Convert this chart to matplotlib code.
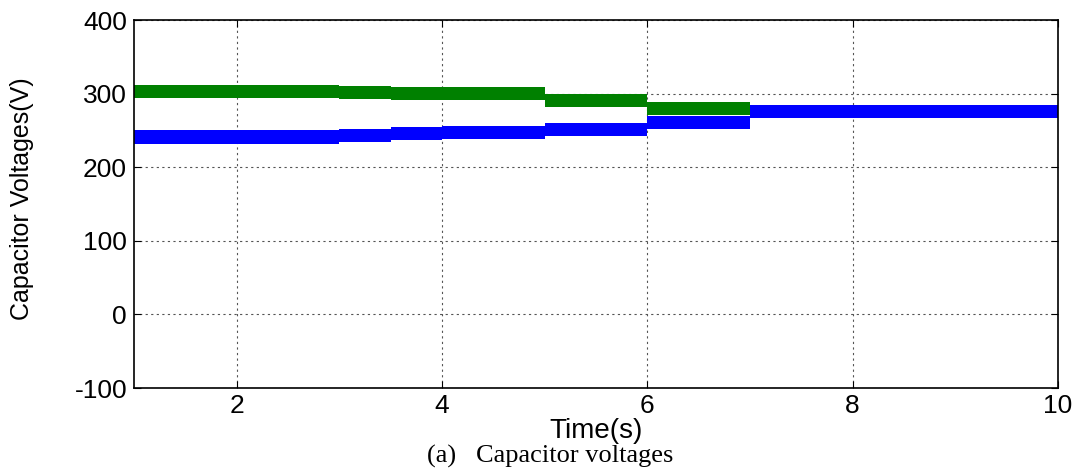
import numpy as np
import matplotlib.pyplot as plt

# step edges (s) and band centre levels (V)
green_edges = [1, 3, 3.5, 4, 5, 6, 7]
green_levels = [302.5, 302, 300.5, 300, 291, 280]
blue_edges = [1, 3, 3.5, 4, 5, 6, 7, 10]
blue_levels = [241, 243.5, 245.5, 247.5, 251, 261, 276]

x_ticks = [2, 4, 6, 8, 10]
y_ticks = [-100, 0, 100, 200, 300, 400]

ripple = 9  # half thickness of the switching band, V

plt.rcParams['font.family'] = ['Liberation Sans', 'DejaVu Sans']
plt.rcParams['axes.unicode_minus'] = False

fig = plt.figure(figsize=(10.81, 4.71), dpi=100)
ax = fig.add_axes([0.124, 0.1762, 0.8547, 0.7813])


def band(edges, levels, color):
    x = np.asarray(edges, dtype=float)
    y = np.append(levels, levels[-1])
    ax.fill_between(x, y - ripple, y + ripple, step='post', color=color, lw=0, zorder=3)


band(green_edges, green_levels, (0, 0.5, 0))
band(blue_edges, blue_levels, (0, 0, 1))

ax.set_xlim(1, 10)
ax.set_ylim(-100, 400)
ax.set_xticks(x_ticks)
ax.set_yticks(y_ticks)
ax.tick_params(direction='in', length=5, width=0.8, labelsize=19, pad=5,
               top=True, right=True)
ax.tick_params(axis='x', pad=4)
ax.grid(True, color='#555555', linestyle=(0, (2, 3)), linewidth=0.8, zorder=1)
for s in ax.spines.values():
    s.set_linewidth(1.2)
    s.set_zorder(4)

ax.set_xlabel('Time(s)', fontsize=20, va='center')
ax.xaxis.set_label_coords(0.5, -0.118)
ax.set_ylabel('Capacitor Voltages(V)', fontsize=18, va='center')
ax.yaxis.set_label_coords(-0.121, 0.514)

fig.text(0.509, 0.031, '(a)   Capacitor voltages', fontsize=19,
         family=['Liberation Serif', 'DejaVu Serif'], ha='center', va='center')

fig.savefig('out.png', dpi=100)
